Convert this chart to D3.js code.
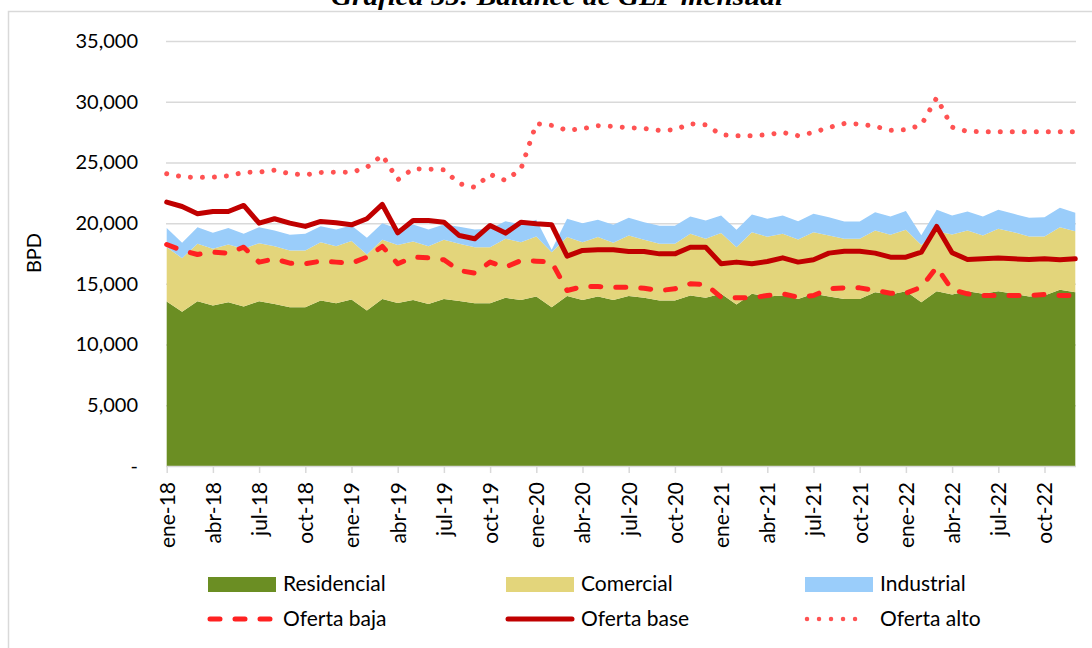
<!DOCTYPE html>
<html><head><meta charset="utf-8">
<script src="https://cdn.jsdelivr.net/npm/d3@7"></script>
<style>
body{margin:0;background:#fff}
svg{display:block}
text{font-family:Lato,"Liberation Sans",sans-serif;fill:#000}
</style>
</head><body>
<svg id="c" width="1092" height="648"></svg>
<script>
const categories = [
 'ene-18','feb-18','mar-18','abr-18','may-18','jun-18','jul-18','ago-18','sep-18','oct-18','nov-18','dic-18',
 'ene-19','feb-19','mar-19','abr-19','may-19','jun-19','jul-19','ago-19','sep-19','oct-19','nov-19','dic-19',
 'ene-20','feb-20','mar-20','abr-20','may-20','jun-20','jul-20','ago-20','sep-20','oct-20','nov-20','dic-20',
 'ene-21','feb-21','mar-21','abr-21','may-21','jun-21','jul-21','ago-21','sep-21','oct-21','nov-21','dic-21',
 'ene-22','feb-22','mar-22','abr-22','may-22','jun-22','jul-22','ago-22','sep-22','oct-22','nov-22','dic-22'];
const yTicks = [0,5000,10000,15000,20000,25000,30000,35000];
const yTickLabels = ['-','5,000','10,000','15,000','20,000','25,000','30,000','35,000'];

const residencial = [13550,12700,13570,13220,13490,13130,13570,13350,13080,13080,13630,13400,13710,12800,13760,13430,13680,13350,13760,13580,
13400,13400,13850,13680,13960,13080,14010,13680,13960,13680,14010,13850,13630,13630,14040,13850,14180,13300,14180,13960,
14040,13760,14180,13960,13760,13760,14310,14120,14400,13490,14400,14120,14400,14180,14400,14180,13960,14040,14510,14310];
const comercial = [4470,4415,4730,4665,4750,4755,4780,4750,4670,4670,4800,4700,4810,4620,4870,4780,4810,4750,4870,4720,
4620,4620,4860,4750,4940,4530,4840,4750,4890,4700,4970,4780,4670,4670,5080,4860,5000,4720,5080,4920,
5080,4890,5080,5020,4950,4950,5090,4920,5050,4720,4940,4950,5000,4800,5130,5080,4940,4860,5160,5030];
const industrial = [1570,1265,1370,1315,1350,1235,1320,1300,1290,1370,1320,1380,1290,1370,1370,1320,1400,1380,1260,1400,
1460,1510,1450,1460,1370,190,1510,1570,1420,1480,1460,1450,1480,1480,1430,1510,1450,1430,1450,1480,
1510,1510,1510,1510,1430,1430,1500,1510,1540,790,1760,1560,1560,1570,1570,1510,1540,1590,1590,1510];
const ofertaBaja = [18240,17750,17420,17610,17530,18020,16790,17060,16700,16650,16870,16790,16700,17200,18080,16650,17200,17140,16980,16100,
15880,16790,16370,16920,16870,16790,14450,14780,14780,14730,14730,14640,14450,14590,15000,14950,13900,13850,13850,14040,
14180,13900,14040,14590,14670,14670,14450,14230,14230,14730,16370,14510,14180,14040,14040,14040,14040,14120,14040,14040];
const ofertaBase = [21730,21370,20770,20960,20960,21460,20000,20360,20000,19730,20140,20030,19860,20360,21540,19200,20220,20220,20080,18980,
18710,19810,19180,20080,19950,19860,17280,17750,17800,17800,17660,17660,17470,17470,18020,18020,16650,16790,16650,16840,
17140,16790,16980,17530,17690,17690,17530,17200,17200,17610,19730,17560,17010,17060,17120,17060,17010,17060,16980,17060];
const ofertaAlto = [24070,23820,23760,23790,23900,24180,24200,24370,24070,23980,24180,24200,24180,24600,25600,23570,24480,24450,24390,23250,
22950,24010,23520,24450,28190,28050,27640,27780,28020,27970,27860,27800,27640,27690,28190,28100,27280,27200,27200,27280,
27470,27200,27470,27880,28200,28160,27970,27640,27690,28080,30330,27900,27550,27530,27530,27530,27530,27530,27530,27530];

const areaKeys = ['Residencial','Comercial','Industrial'];
const areaColors = {Residencial:'#6b8e23', Comercial:'#e3d57b', Industrial:'#9acdfa'};

const svg = d3.select('#c');
const x = d3.scalePoint().domain(categories).range([166.7, 1075.3]);
const y = d3.scaleLinear().domain([0,35000]).range([466,41]);

// outer frame
svg.append('rect').attr('x',8.5).attr('y',11.5).attr('width',1100).attr('height',660)
  .attr('fill','none').attr('stroke','#d9d9d9').attr('stroke-width',1.5);

// title (cut at top)
svg.append('text').attr('x',557).attr('y',4.5).attr('text-anchor','middle')
  .attr('textLength',452).attr('lengthAdjust','spacingAndGlyphs')
  .style('font-family','"Liberation Serif",serif').style('font-weight','bold').style('font-style','italic')
  .style('font-size','26px').text('Gráfica 55: Balance de GLP mensual');

// gridlines
const grid = svg.append('g').attr('transform','translate(166,0)')
  .call(d3.axisLeft(y).tickValues(yTicks.slice(1)).tickSize(-910).tickFormat(''));
grid.select('.domain').remove();
grid.selectAll('line').attr('stroke','#d9d9d9').attr('stroke-width',1.5);

// y labels
const yl = svg.append('g').attr('transform','translate(166,0)')
  .call(d3.axisLeft(y).tickValues(yTicks).tickSize(0).tickPadding(28)
    .tickFormat((d,i)=>yTickLabels[yTicks.indexOf(d)]));
yl.select('.domain').remove();
yl.selectAll('text').style('font-size','20px').style('font-family','Lato,sans-serif').attr('fill','#000');

// stacked areas
const rows = categories.map((c,i)=>({cat:c, Residencial:residencial[i], Comercial:comercial[i], Industrial:industrial[i]}));
const stack = d3.stack().keys(areaKeys)(rows);
const area = d3.area().x(d=>x(d.data.cat)).y0(d=>y(d[0])).y1(d=>y(d[1]));
svg.append('g').selectAll('path').data(stack).join('path')
  .attr('d',area).attr('fill',d=>areaColors[d.key]);

// x axis
const xa = svg.append('g').attr('transform','translate(0,466)')
  .call(d3.axisBottom(x).tickValues(categories.filter((d,i)=>i%3===0)).tickSize(7).tickSizeOuter(0));
xa.select('.domain').attr('stroke','#d9d9d9').attr('stroke-width',1.5).attr('d','M166,0.5H1076');
xa.selectAll('line').attr('stroke','#d9d9d9').attr('stroke-width',1.5);
xa.selectAll('text').attr('transform','rotate(-90)').attr('x',-16).attr('y',0).attr('dy','0.35em')
  .style('text-anchor','end').style('font-size','21px').style('font-family','Lato,sans-serif').attr('fill','#000');

// lines
const line = d3.line().x((d,i)=>x(categories[i])).y(d=>y(d));
const lineSeries = [
  {name:'Oferta baja', data:ofertaBaja, color:'#ff2121', width:5, dash:'10 15'},
  {name:'Oferta base', data:ofertaBase, color:'#c00000', width:5, dash:null},
  {name:'Oferta alto', data:ofertaAlto, color:'#ff5252', width:5, dash:'0.01 12'}
];
lineSeries.forEach(s=>{
  svg.append('path').attr('d',line(s.data)).attr('fill','none').attr('stroke',s.color)
    .attr('stroke-width',s.width).attr('stroke-linejoin','round').attr('stroke-linecap','round')
    .attr('stroke-dasharray',s.dash);
});

// y title
svg.append('text').attr('transform','translate(41,253) rotate(-90)').attr('text-anchor','middle')
  .style('font-size','20px').text('BPD');

// legend
const lg = svg.append('g');
const cols = [208, 506, 805];
areaKeys.forEach((k,i)=>{
  lg.append('rect').attr('x',cols[i]).attr('y',577).attr('width',68).attr('height',15).attr('fill',areaColors[k]);
  lg.append('text').attr('x',cols[i]+75).attr('y',584).attr('dy','0.35em').style('font-size','21px').text(k);
});
lineSeries.forEach((s,i)=>{
  lg.append('line').attr('x1',cols[i]+2).attr('x2',cols[i]+(s.dash==='0.01 12'?62:66)).attr('y1',619).attr('y2',619)
    .attr('stroke',s.color).attr('stroke-width',s.dash==='0.01 12'?4.5:5).attr('stroke-linecap','round')
    .attr('stroke-dasharray',s.dash);
  lg.append('text').attr('x',cols[i]+75).attr('y',619).attr('dy','0.35em').style('font-size','21px').text(s.name);
});
</script>
</body></html>
